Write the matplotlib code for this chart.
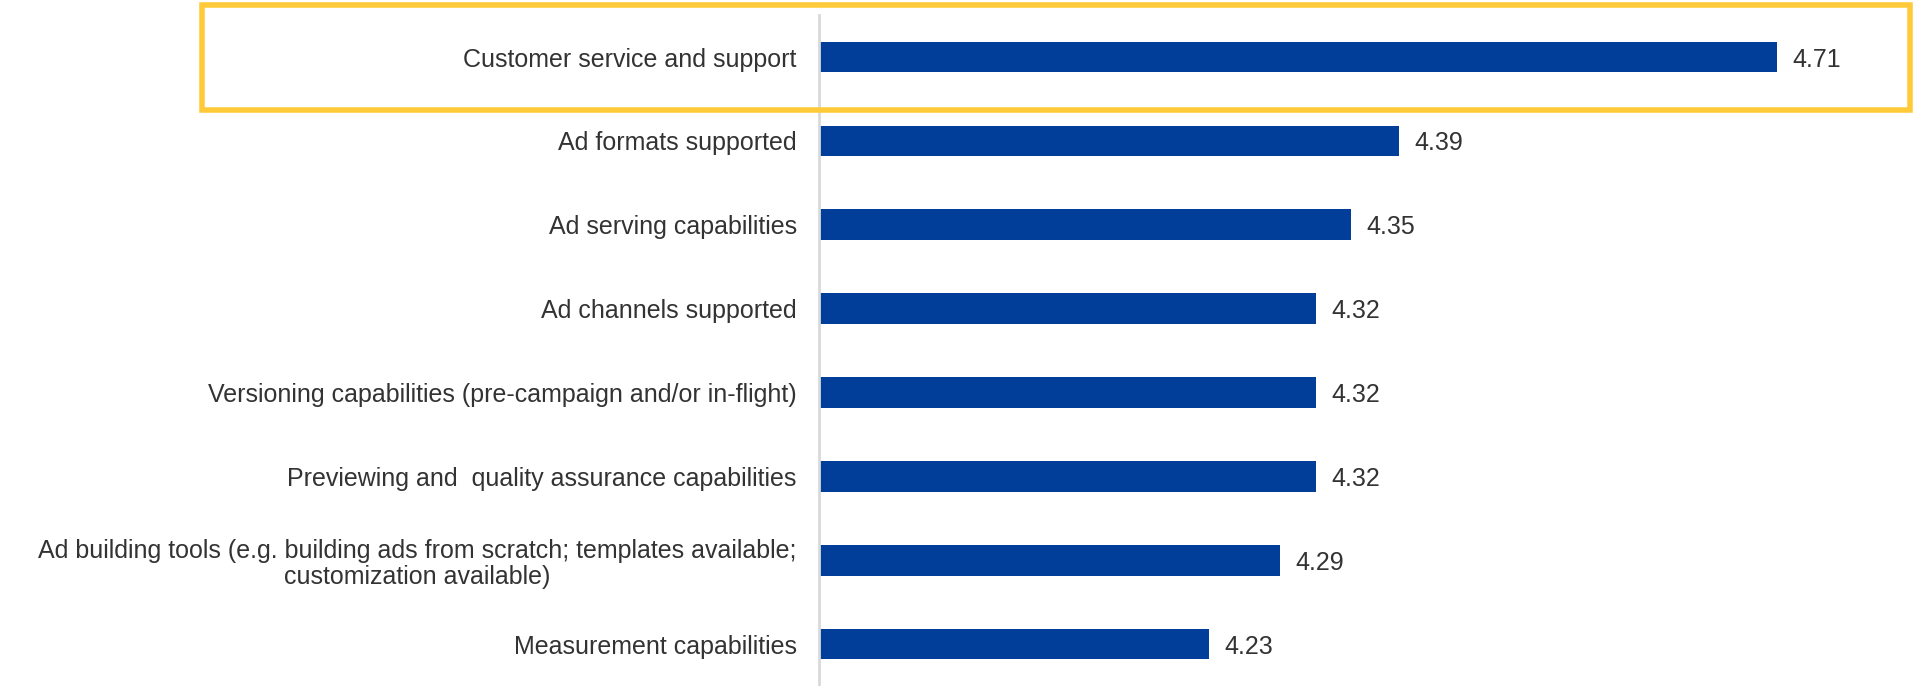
import matplotlib
matplotlib.use("Agg")
import matplotlib.pyplot as plt
from matplotlib.patches import Rectangle

categories = [
    "Customer service and support",
    "Ad formats supported",
    "Ad serving capabilities",
    "Ad channels supported",
    "Versioning capabilities (pre-campaign and/or in-flight)",
    "Previewing and  quality assurance capabilities",
    "Ad building tools (e.g. building ads from scratch; templates available;\ncustomization available)",
    "Measurement capabilities",
]
scores = [4.71, 4.39, 4.35, 4.32, 4.32, 4.32, 4.29, 4.23]

plt.rcParams['font.family'] = ['Liberation Sans', 'DejaVu Sans']

fig = plt.figure(figsize=(19.17, 6.86), dpi=100)
ax = fig.add_axes([0.4272, 0.0, 0.5728, 0.978])

y = list(range(len(categories)))
ax.barh(y, scores, height=0.365, color='#003E99', left=0)
ax.set_xlim(3.9, 4.828)
ax.set_ylim(len(categories) - 0.5, -0.5)

for yi, v in zip(y, scores):
    ax.text(v + 0.013, yi, f"{v:.2f}", va='center_baseline', ha='left', fontsize=18, color='#333333')

ax.set_yticks(y)
ax.set_yticklabels(categories, fontsize=18, color='#333333', linespacing=1.1)
for lbl in ax.get_yticklabels():
    lbl.set_multialignment('center')
ax.tick_params(axis='y', length=0, pad=16)
ax.set_xticks([])

for s in ['top', 'right', 'bottom']:
    ax.spines[s].set_visible(False)
ax.spines['left'].set_color('#D9D9D9')
ax.spines['left'].set_linewidth(2)

# highlight box around the top item
box = Rectangle((202 / 1917, 1 - 110 / 686), (1910 - 202) / 1917, 105 / 686,
                transform=fig.transFigure, fill=False, edgecolor='#FFCA3A', linewidth=4)
fig.patches.append(box)

fig.savefig("out.png", dpi=100)
